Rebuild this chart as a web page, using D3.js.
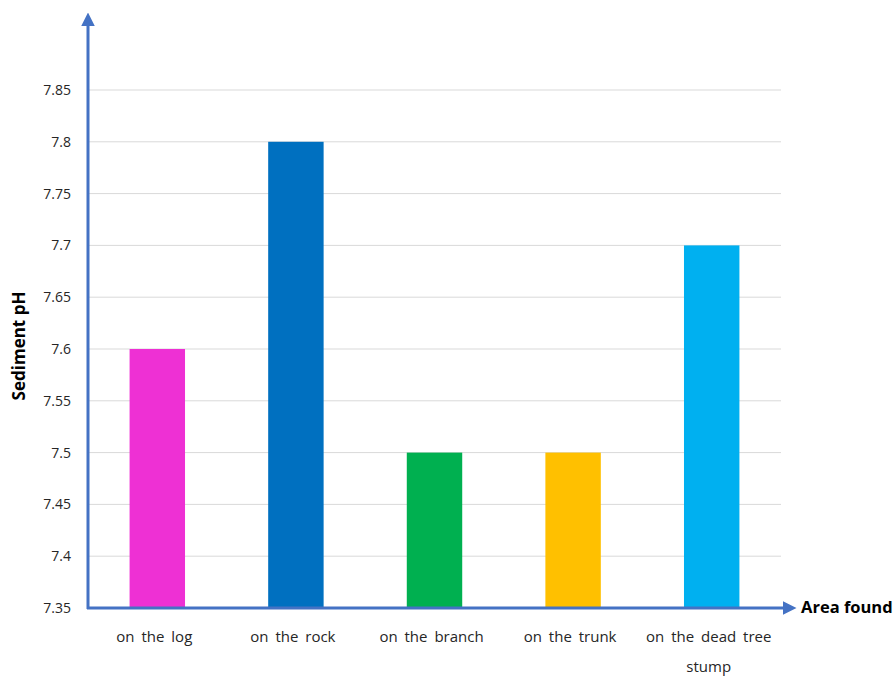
<!DOCTYPE html>
<html><head><meta charset="utf-8">
<script src="https://cdn.jsdelivr.net/npm/d3@7"></script>
<style>body{margin:0;background:#fff}text{font-family:"Open Sans","Noto Sans",sans-serif}</style>
</head><body>
<svg id="c" width="895" height="677"></svg>
<script>
const categories = ["on the log","on the rock","on the branch","on the trunk","on the dead tree stump"];
const values = [7.6, 7.8, 7.5, 7.5, 7.7];
const colors = ["#EE30D4","#0070C0","#00B050","#FFC000","#00B0F0"];
const yTicks = [7.35,7.4,7.45,7.5,7.55,7.6,7.65,7.7,7.75,7.8,7.85];
const yTitle = "Sediment pH";
const xTitle = "Area found";

(function(){
const svg = d3.select("#c");
const mLeft = 88, mRight = 781, mTop = 90, mBottom = 608;
const x = d3.scaleBand().domain(categories).range([mLeft, mRight]).paddingInner(0.6).paddingOuter(0.3);
const y = d3.scaleLinear().domain([7.35, 7.85]).range([mBottom, mTop]);

// gridlines
svg.append("g").selectAll("line").data(yTicks.slice(1)).join("line")
  .attr("x1", mLeft).attr("x2", mRight).attr("y1", d=>y(d)).attr("y2", d=>y(d))
  .attr("stroke", "#d9d9d9").attr("stroke-width", 1);

// bars
svg.append("g").selectAll("rect").data(values).join("rect")
  .attr("x", (d,i)=>x(categories[i])).attr("width", x.bandwidth())
  .attr("y", d=>y(d)).attr("height", d=>y(7.35)-y(d))
  .attr("fill", (d,i)=>colors[i]);

// y tick labels
const yAxis = d3.axisLeft(y).tickValues(yTicks).tickSize(0).tickPadding(17).tickFormat(d=>String(+d.toFixed(2)));
const ya = svg.append("g").attr("transform", `translate(${mLeft},0)`).call(yAxis);
ya.select(".domain").remove();
ya.selectAll("text").attr("font-size", 14).attr("fill", "#262626").attr("font-family", '"Open Sans","Noto Sans",sans-serif');

// x tick labels
const xAxis = d3.axisBottom(x).tickSize(0).tickPadding(0).tickFormat("");
const xa = svg.append("g").attr("transform", `translate(0,${mBottom})`).call(xAxis);
xa.select(".domain").remove();
xa.selectAll(".tick").each(function(d){
  const g = d3.select(this);
  const lines = d === "on the dead tree stump" ? ["on the dead tree","stump"] : [d];
  lines.forEach((l,j)=>{
    g.append("text").attr("x", -3).attr("y", 34 + j*30).attr("text-anchor","middle")
      .attr("font-size", 15).attr("fill","#262626").style("word-spacing","3px").text(l);
  });
});

// axes lines with arrows
const axisColor = "#4472C4";
const defs = svg.append("defs");
defs.append("marker").attr("id","arr").attr("viewBox","0 0 10 10").attr("refX",0).attr("refY",5)
  .attr("markerWidth",4.5).attr("markerHeight",4.5).attr("orient","auto").attr("markerUnits","strokeWidth")
  .append("path").attr("d","M0,0L10,5L0,10Z").attr("fill",axisColor);
svg.append("line").attr("x1", mLeft).attr("y1", mBottom+1).attr("x2", mLeft).attr("y2", 26)
  .attr("stroke", axisColor).attr("stroke-width", 3).attr("marker-end","url(#arr)");
svg.append("line").attr("x1", mLeft-1).attr("y1", mBottom).attr("x2", 783).attr("y2", mBottom)
  .attr("stroke", axisColor).attr("stroke-width", 3).attr("marker-end","url(#arr)");

// titles
svg.append("text").attr("x", 801).attr("y", 613).attr("font-size", 16.5).attr("font-weight","bold")
  .attr("fill","#000").text(xTitle);
svg.append("text").attr("transform", "translate(25,346) rotate(-90)").attr("text-anchor","middle")
  .attr("font-size", 17).attr("font-weight","bold").attr("fill","#000").text(yTitle);
})();
</script>
</body></html>
